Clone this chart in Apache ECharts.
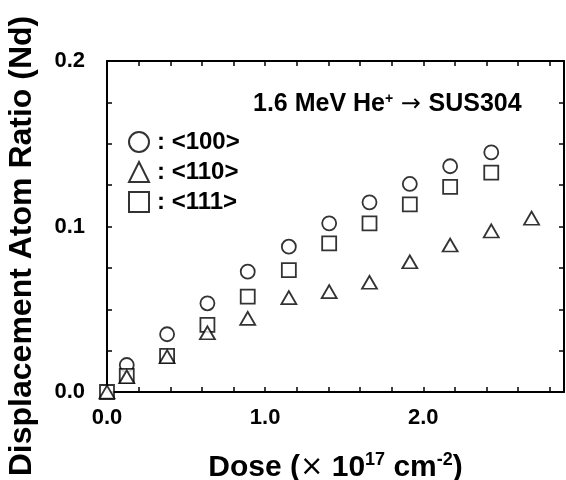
<!DOCTYPE html>
<html>
<head>
	<meta charset="utf-8" />
	<title>Displacement Atom Ratio</title>
	<script type="text/javascript" src="https://cdn.jsdelivr.net/npm/echarts@6/dist/echarts.min.js"></script>
	<style>
		html, body {margin:0;padding:0;background:#fff;}
		#chart {width:566px;height:480px;}
	</style>
</head>
<body>
	<div id="chart"></div>
	<script>
		// dose (x10^17 cm^-2)
		var doseX = [0, 0.125, 0.38, 0.635, 0.89, 1.15, 1.405, 1.66, 1.915, 2.17, 2.43, 2.685];

		var ratio100 = [null, 0.0163, 0.0349, 0.0536, 0.0727, 0.0878, 0.1019, 0.1146, 0.1257, 0.1364, 0.1448];	// <100>
		var ratio110 = [0, 0.0092, 0.0213, 0.0358, 0.0445, 0.057, 0.0606, 0.0663, 0.0787, 0.0888, 0.0973, 0.105];	// <110>
		var ratio111 = [0, 0.0097, 0.0218, 0.0405, 0.0576, 0.0737, 0.0898, 0.1019, 0.1134, 0.124, 0.1325];	// <111>

		var xLabels = [0, 1, 2];
		var yLabels = [0, 0.1, 0.2];

		var FONT = 'Liberation Sans, Arial, sans-serif';

		function pairs(ys) {
			var out = [];
			ys.forEach((y, i) => {
				if (y !== null && y !== undefined) out.push([doseX[i], y]);
			});
			return out;
		}

		function hasLabel(list, v) {
			return list.some(l => Math.abs(l - v) < 1e-6);
		}

		var chart = echarts.init(document.getElementById('chart'), null, {renderer: 'canvas'});

		var axisLine = {show: true, onZero: false, lineStyle: {color: '#000', width: 2}};
		var axisTick = {show: true, inside: true, length: 5, lineStyle: {color: '#000', width: 1.5}};

		var markStyle = {color: '#fff', borderColor: '#000', borderWidth: 1.8};

		var option = {
			animation: false,
			backgroundColor: '#fff',
			textStyle: {fontFamily: FONT},
			grid: {left: 107, right: 2, top: 61, bottom: 88, containLabel: false, outerBoundsMode: 'none'},
			legend: {
				orient: 'vertical',
				left: 123,
				top: 125,
				itemWidth: 20,
				itemHeight: 20,
				itemGap: 6,
				data: ['<100>', '<110>', '<111>'],
				itemStyle: {borderWidth: 2},
				formatter: n => ': ' + n,
				textStyle: {fontFamily: FONT, fontWeight: 'bold', fontSize: 24, color: '#000', padding: [0, 0, 0, 3]}
			},
			xAxis: [
				{
					type: 'value',
					min: 0,
					max: 2.89,
					interval: 0.2,
					position: 'bottom',
					splitLine: {show: false},
					axisLine: axisLine,
					axisTick: axisTick,
					axisLabel: {
						margin: 15,
						fontFamily: FONT,
						fontWeight: 'bold',
						fontSize: 22,
						color: '#000',
						formatter: v => hasLabel(xLabels, v) ? v.toFixed(1) : ''
					},
					name: '{a|Dose (}{x|×}{a| 10}{s|17}{a| cm}{s|-2}{a|)}',
					nameLocation: 'middle',
					nameGap: 59,
					nameTextStyle: {
						rich: {
							a: {fontFamily: FONT, fontWeight: 'bold', fontSize: 30, color: '#000'},
							x: {fontFamily: 'DejaVu Sans', fontWeight: 'normal', fontSize: 28, color: '#000'},
							s: {fontFamily: FONT, fontWeight: 'bold', fontSize: 18, color: '#000', verticalAlign: 'top', padding: [0, 0, 16, 0]}
						}
					}
				},
				{
					type: 'value',
					min: 0,
					max: 2.89,
					interval: 0.2,
					position: 'top',
					splitLine: {show: false},
					axisLine: axisLine,
					axisTick: axisTick,
					axisLabel: {show: false}
				}
			],
			yAxis: [
				{
					type: 'value',
					min: 0,
					max: 0.2,
					interval: 0.025,
					position: 'left',
					splitLine: {show: false},
					axisLine: axisLine,
					axisTick: axisTick,
					axisLabel: {
						margin: 22,
						fontFamily: FONT,
						fontWeight: 'bold',
						fontSize: 22,
						color: '#000',
						formatter: v => hasLabel(yLabels, v) ? v.toFixed(1) : ''
					}
				},
				{
					type: 'value',
					min: 0,
					max: 0.2,
					interval: 0.025,
					position: 'right',
					splitLine: {show: false},
					axisLine: axisLine,
					axisTick: axisTick,
					axisLabel: {show: false}
				}
			],
			graphic: [
				{
					type: 'text',
					x: 22,
					y: 246,
					rotation: Math.PI / 2,
					style: {
						text: 'Displacement Atom Ratio (Nd)',
						font: 'bold 32px ' + FONT,
						fill: '#000',
						textAlign: 'center',
						textVerticalAlign: 'middle'
					}
				},
				{
					type: 'text',
					x: 253,
					y: 92,
					style: {
						text: '{a|1.6 MeV He}{s|+}{b| → }{a|SUS304}',
						rich: {
							a: {fontFamily: FONT, fontWeight: 'bold', fontSize: 25, fill: '#000'},
							b: {fontFamily: 'DejaVu Sans', fontWeight: 'normal', fontSize: 24, fill: '#000'},
							s: {fontFamily: FONT, fontWeight: 'bold', fontSize: 14, fill: '#000', verticalAlign: 'top', padding: [0, 0, 10, 0]}
						}
					}
				}
			],
			series: [
				{
					name: '<100>',
					type: 'scatter',
					symbol: 'circle',
					symbolSize: 14,
					itemStyle: markStyle,
					data: pairs(ratio100)
				},
				{
					name: '<111>',
					type: 'scatter',
					symbol: 'rect',
					symbolSize: 14,
					itemStyle: markStyle,
					data: pairs(ratio111)
				},
				{
					name: '<110>',
					type: 'scatter',
					symbol: 'triangle',
					symbolSize: [15, 13],
					itemStyle: markStyle,
					data: pairs(ratio110)
				}
			]
		};

		chart.setOption(option);
	</script>
</body>
</html>
